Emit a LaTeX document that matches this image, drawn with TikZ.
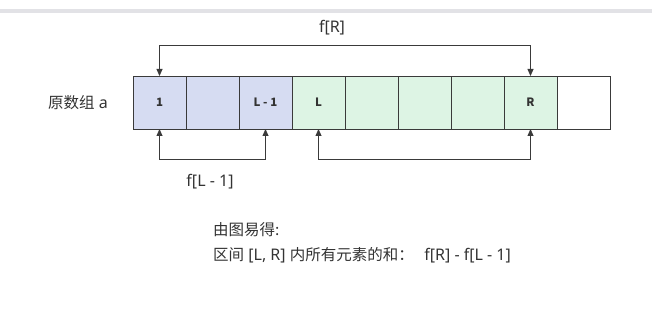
\documentclass[tikz,border=0pt]{standalone}
\usepackage{fontspec}
\setmainfont{Noto Sans}
\newfontfamily\cjk{Noto Sans CJK SC}
\newcommand{\zh}[1]{{\cjk\fontsize{15.5}{18}\selectfont #1}}
\usetikzlibrary{arrows.meta}
\definecolor{txt}{HTML}{333333}
\definecolor{edge}{HTML}{3A3A3A}
\definecolor{cblue}{HTML}{D6DCF2}
\definecolor{cgreen}{HTML}{DDF4E4}
\definecolor{band}{HTML}{E2E2E6}
\begin{document}
\begin{tikzpicture}[x=1pt,y=-1pt,
  cell/.style={draw=edge,line width=0.9pt,minimum width=53pt,minimum height=53pt,inner sep=0pt,outer sep=0pt,anchor=north west,text=txt,font=\cjk\fontsize{11.5}{13}\selectfont\bfseries},
  lbl/.style={text=txt,font=\fontsize{16}{18}\selectfont,inner sep=0pt},
  conn/.style={draw=edge,line width=0.8pt,{Triangle[width=6pt,length=7pt]}-{Triangle[width=6pt,length=7pt]}}]
\useasboundingbox (0,0) rectangle (652,312);
\fill[band] (0,9) rectangle (652,13);
\node[cell,fill=cblue]  (c1) at (133,76) {1};
\node[cell,fill=cblue]  (c2) at (186,76) {};
\node[cell,fill=cblue]  (c3) at (239,76) {L - 1};
\node[cell,fill=cgreen] (c4) at (292,76) {L};
\node[cell,fill=cgreen] (c5) at (345,76) {};
\node[cell,fill=cgreen] (c6) at (398,76) {};
\node[cell,fill=cgreen] (c7) at (451,76) {};
\node[cell,fill=cgreen] (c8) at (504,76) {R};
\node[cell,fill=white]  (c9) at (557,76) {};
\draw[conn] (c1.north) -- ++(0,-31) -| (c8.north);
\draw[conn] (c1.south) -- ++(0,30) -| (c3.south);
\draw[conn] (c4.south) -- ++(0,30) -| (c8.south);
\node[lbl] (fr) at (332,28) {f[R]};
\node[lbl] (fl) at (210,182) {f[L - 1]};
\node[lbl] (arr) at (78,103) {\zh{原数组} a};
\node[lbl,anchor=west] (t1) at (213,230) {\zh{由图易得:}};
\node[lbl,anchor=west] (t2) at (213,255.5) {\zh{区间} [L, R] \zh{内所有元素的和：}\hspace{0.4em} f[R] - f[L - 1]};
\end{tikzpicture}
\end{document}
